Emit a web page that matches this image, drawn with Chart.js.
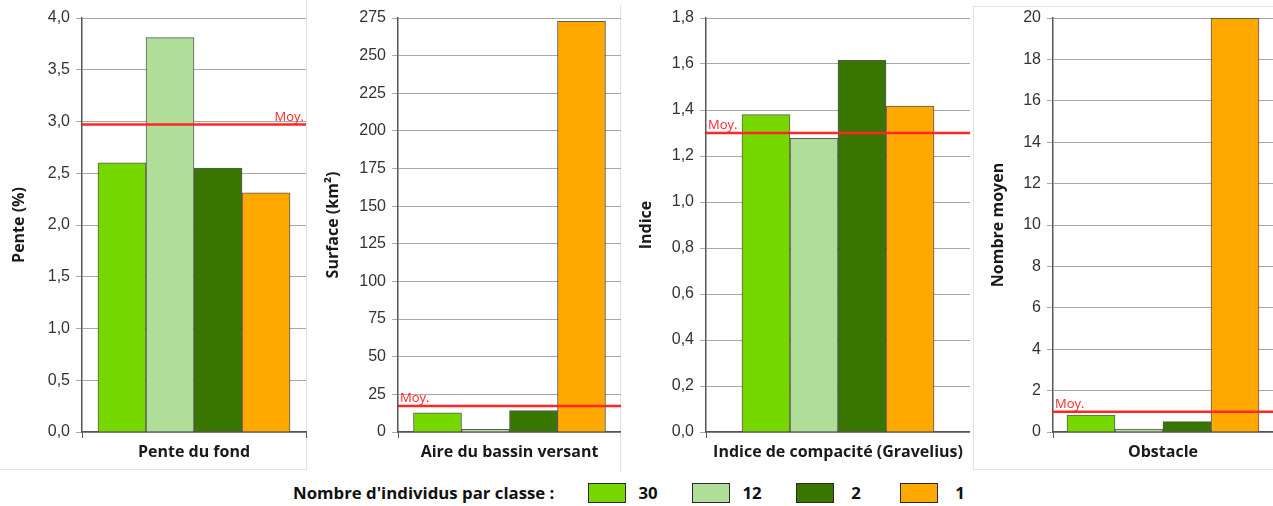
<!DOCTYPE html>
<html><head><meta charset="utf-8">
<script src="https://cdn.jsdelivr.net/npm/chart.js@4"></script>
<style>
  body{margin:0;background:#fff;width:1273px;height:506px;overflow:hidden;position:relative;font-family:"Open Sans",sans-serif}
  .panel{position:absolute;top:0;height:470px}
  .frame{position:absolute;border:0 solid #e2e2e2}
  #legend{position:absolute;left:293px;top:481px;height:23px;display:flex;align-items:center;font:bold 16.8px "Open Sans",sans-serif;color:#111}
  #legend .lab{width:295px;white-space:nowrap}
  #legend .box{width:36px;height:18px;border:1.5px solid #2a2a2a;flex:none}
  #legend .num{width:44px;text-align:center;margin-right:22px}
</style></head>
<body>
<div class="frame" style="left:0;top:0;width:306px;height:469px;border-right-width:1px;border-bottom-width:1px"></div>
<div class="frame" style="left:620px;top:5px;width:0;height:467px;border-right-width:1px"></div>
<div class="frame" style="left:973px;top:6px;width:300px;height:462px;border-top-width:1px;border-left-width:1px;border-bottom-width:1px"></div>

<div class="panel" style="left:0;width:307px"><canvas id="c1"></canvas></div>
<div class="panel" style="left:307px;width:314px"><canvas id="c2"></canvas></div>
<div class="panel" style="left:621px;width:349px"><canvas id="c3"></canvas></div>
<div class="panel" style="left:970px;width:303px"><canvas id="c4"></canvas></div>
<div id="legend"></div>

<script>
/* ===================== données ===================== */
const classes   = ['30','12','2','1'];                 // nombre d'individus par classe
const couleurs  = ['#77d800','#b0de98','#397600','#ffa800'];

const penteFond  = [2.60, 3.81, 2.55, 2.31];   const penteMoy  = 2.97;
const aireBassin = [12.8, 1.8, 14.2, 272.8];   const aireMoy   = 17.3;
const gravelius  = [1.38, 1.277, 1.616, 1.417]; const graveliusMoy = 1.30;
const obstacle   = [0.82, 0.14, 0.50, 20];     const obstacleMoy = 0.98;

const yMax   = [4.0, 275, 1.8, 20];
const yStep  = [0.5, 25, 0.2, 2];
const yDec   = [1, 0, 1, 0];

/* ===================== helpers ===================== */
const virgule = (v,d) => v.toFixed(d).replace('.',',');

// ligne rouge "Moy." tracée via l'échelle y
const moyPlugin = {
  id:'moy',
  afterDatasetsDraw(chart,args,opt){
    const {ctx,chartArea:a,scales:{y}} = chart;
    const py = y.getPixelForValue(opt.value);
    ctx.save();
    ctx.strokeStyle='#ff2626'; ctx.lineWidth=2.5;
    ctx.beginPath(); ctx.moveTo(a.left,py); ctx.lineTo(a.right,py); ctx.stroke();
    ctx.fillStyle='#ff2626'; ctx.font='13px "Open Sans"';
    ctx.textBaseline='bottom';
    if(opt.side==='right'){ ctx.textAlign='right'; ctx.fillText('Moy.',a.right-2,py-1); }
    else { ctx.textAlign='left'; ctx.fillText('Moy.',a.left+2,py-1); }
    ctx.restore();
  }
};

function panneau(id,i,cat,titre,vals,moy,o){
  new Chart(document.getElementById(id),{
    type:'bar',
    data:{labels:[cat],datasets:classes.map((c,k)=>({
      label:c,data:[vals[k]],backgroundColor:couleurs[k],
      borderColor:'rgba(35,35,35,.75)',borderWidth:1,borderSkipped:'bottom',barThickness:48
    }))},
    options:{
      responsive:true,maintainAspectRatio:false,animation:false,
      layout:{padding:{top:18,right:o.right||0,left:0,bottom:0}},
      plugins:{legend:{display:false},tooltip:{enabled:false},moy:{value:moy,side:o.side}},
      scales:{
        x:{
          afterFit:s=>{s.height=38;},
          ticks:{padding:5,color:'#1a1a1a',font:{family:'"Open Sans"',size:16,weight:'bold'}},
          grid:{drawOnChartArea:false,tickLength:6,color:'#555'},
          border:{color:'#555',width:1.5}
        },
        y:{
          min:0,max:yMax[i],
          afterFit:s=>{s.width=o.yw;},
          ticks:{stepSize:yStep[i],padding:6,color:'#333',
                 font:{family:'"Liberation Sans"',size:16},
                 callback:v=>virgule(v,yDec[i])},
          grid:{color:'#a8a8a8',tickLength:6},
          border:{color:'#555',width:1.5},
          title:{display:true,text:titre,color:'#1a1a1a',padding:{top:o.tp},
                 font:{family:'"Open Sans"',size:16,weight:'bold'}}
        }
      }
    },
    plugins:[moyPlugin]
  });
}

panneau('c1',0,'Pente du fond','Pente (%)',penteFond,penteMoy,{yw:82,tp:10,right:1,side:'right'});
panneau('c2',1,'Aire du bassin versant','Surface (km²)',aireBassin,aireMoy,{yw:91,tp:17});
panneau('c3',2,'Indice de compacité (Gravelius)','Indice',gravelius,graveliusMoy,{yw:85,tp:16});
panneau('c4',3,'Obstacle','Nombre moyen',obstacle,obstacleMoy,{yw:83,tp:19});

/* =============== légende ========================== */
const lg=document.getElementById('legend');
lg.innerHTML='<span class="lab">Nombre d\'individus par classe :</span>'+
  classes.map((c,k)=>`<span class="box" style="background:${couleurs[k]}"></span><span class="num">${c}</span>`).join('');
</script>
</body></html>
